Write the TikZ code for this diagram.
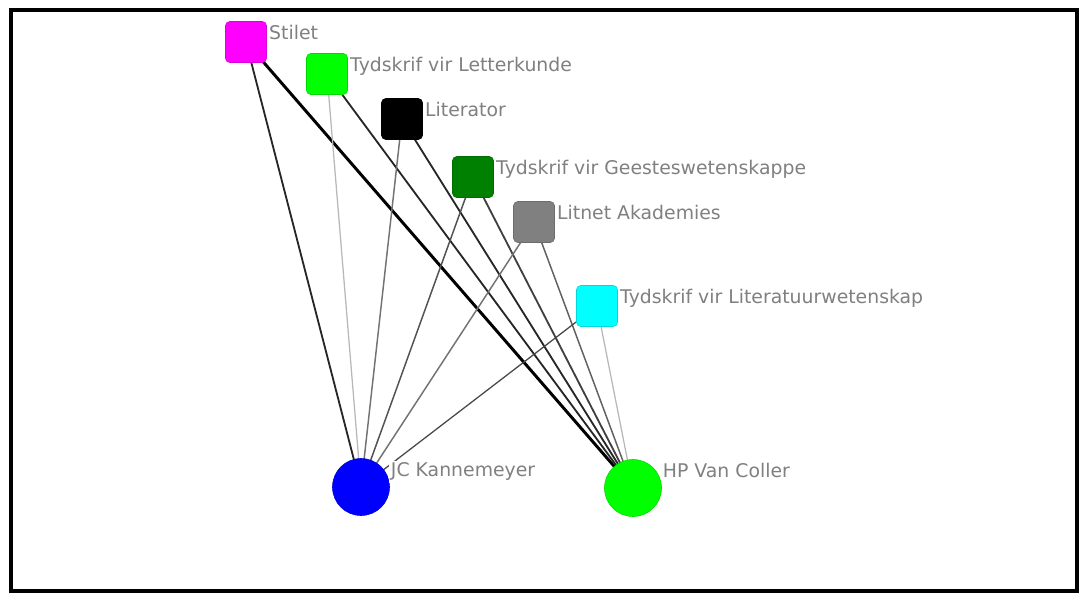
\documentclass[tikz,border=0pt]{standalone}
\usepackage{fontspec}
\setmainfont{DejaVu Sans}
\usetikzlibrary{backgrounds}
\definecolor{labgray}{RGB}{128,128,128}
\definecolor{darkgreen}{RGB}{0,128,0}
\definecolor{pink}{RGB}{255,0,255}
\definecolor{lime}{RGB}{0,255,0}
\definecolor{aqua}{RGB}{0,255,255}
\definecolor{royal}{RGB}{0,0,255}
\begin{document}
\begin{tikzpicture}[x=0.025cm,y=-0.025cm,
  journal/.style={draw=#1!85!black,fill=#1,minimum size=1.025cm,rounded corners=3pt,inner sep=0pt,line width=0.4pt},
  author/.style={circle,draw=#1!85!black,fill=#1,minimum size=1.425cm,inner sep=0pt,line width=0.4pt},
  lab/.style={anchor=base west,text=labgray,fill=white,inner sep=1.5pt,font=\fontsize{13.4}{15}\selectfont},
  jlab/.style={lab,yshift=0.06cm},
  alab/.style={lab,yshift=0.26cm,xshift=-0.03cm},
  heavy/.style={black,line width=2.1pt},
  strong/.style={black!85,line width=1.3pt},
  medium/.style={black!55,line width=1.05pt},
  faint/.style={black!28,line width=0.9pt}]
  \useasboundingbox (0,0) rectangle (1081,594);
  \draw[line width=0.12cm] (11,10) rectangle (1077,591);
  % journals
  \node[journal=pink,label={[jlab]east:Stilet}] (stilet) at (246,42) {};
  \node[journal=lime,label={[jlab]east:Tydskrif vir Letterkunde}] (letterkunde) at (327,74) {};
  \node[journal=black,label={[jlab]east:Literator}] (literator) at (402,119) {};
  \node[journal=darkgreen,label={[jlab]east:Tydskrif vir Geesteswetenskappe}] (geestes) at (473,177) {};
  \node[journal=gray,label={[jlab]east:Litnet Akademies}] (litnet) at (534,222) {};
  \node[journal=aqua,label={[jlab]east:Tydskrif vir Literatuurwetenskap}] (literatuur) at (597,306) {};
  % authors
  \node[author=royal,label={[alab]east:JC Kannemeyer}] (jc) at (361,487) {};
  \node[author=lime,label={[alab]east:HP Van Coller}] (hp) at (633,488) {};
  \begin{scope}[on background layer]
    \draw[strong] (stilet.center) -- (jc.center);
    \draw[heavy] (stilet.center) -- (hp.center);
    \draw[faint] (letterkunde.center) -- (jc.center);
    \draw[strong] (letterkunde.center) -- (hp.center);
    \draw[medium] (literator.center) -- (jc.center);
    \draw[strong] (literator.center) -- (hp.center);
    \draw[medium,black!68] (geestes.center) -- (jc.center);
    \draw[strong,black!75] (geestes.center) -- (hp.center);
    \draw[medium] (litnet.center) -- (jc.center);
    \draw[medium,black!62] (litnet.center) -- (hp.center);
    \draw[strong,black!72,line width=0.9pt] (literatuur.center) -- (jc.center);
    \draw[faint] (literatuur.center) -- (hp.center);
  \end{scope}
\end{tikzpicture}
\end{document}
